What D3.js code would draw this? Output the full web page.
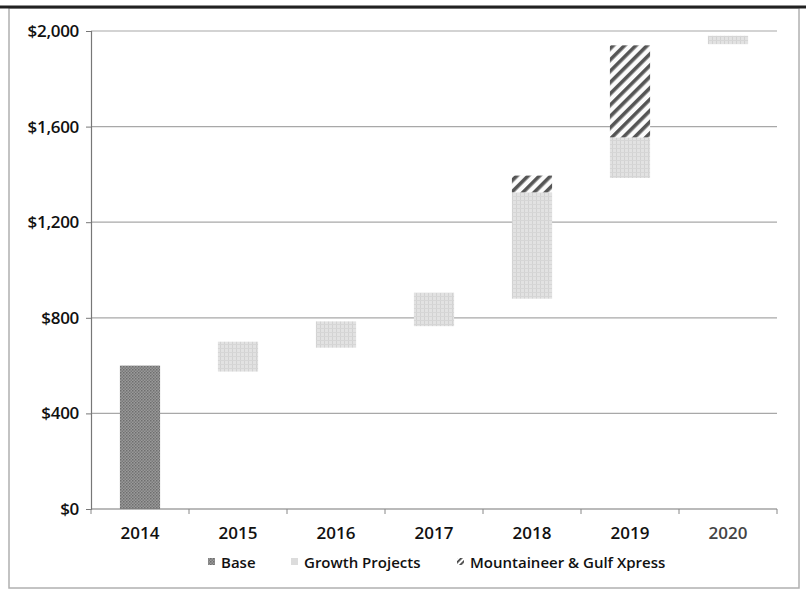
<!DOCTYPE html>
<html>
<head>
<meta charset="utf-8">
<script src="https://cdn.jsdelivr.net/npm/d3@7"></script>
<style>
  html, body { margin: 0; padding: 0; background: #fff; }
  svg { display: block; }
  text { font-family: "Open Sans", "Noto Sans", sans-serif; font-weight: 600; fill: #111; }
</style>
</head>
<body>
<svg id="chart" width="806" height="593"></svg>
<script>
// Capital outlook, $ millions, shown as a floating waterfall
const years = ["2014", "2015", "2016", "2017", "2018", "2019", "2020"];
const baseValues = [600, 0, 0, 0, 0, 0, 0];
const growthLow  = [null, 575, 675, 765, 880, 1385, 1945];
const growthHigh = [null, 700, 785, 905, 1325, 1555, 1980];
const mgxHigh    = [null, null, null, null, 1395, 1940, null];
const yTicks = [0, 400, 800, 1200, 1600, 2000];
const legendLabels = ["Base", "Growth Projects", "Mountaineer & Gulf Xpress"];

const svg = d3.select("#chart");
const plotLeft = 91, plotRight = 777, plotTop = 31, plotBottom = 509;

// Fill patterns
const defs = svg.append("defs");
const pBase = defs.append("pattern").attr("id", "pBase").attr("patternUnits", "userSpaceOnUse")
  .attr("width", 3).attr("height", 3);
pBase.append("rect").attr("width", 3).attr("height", 3).attr("fill", "#9a9a9a");
pBase.append("rect").attr("width", 1.5).attr("height", 1.5).attr("fill", "#6e6e6e");
pBase.append("rect").attr("x", 1.5).attr("y", 1.5).attr("width", 1.5).attr("height", 1.5).attr("fill", "#7a7a7a");

const pGrowth = defs.append("pattern").attr("id", "pGrowth").attr("patternUnits", "userSpaceOnUse")
  .attr("width", 4).attr("height", 4);
pGrowth.append("rect").attr("width", 4).attr("height", 4).attr("fill", "#e2e2e2");
pGrowth.append("rect").attr("width", 1).attr("height", 4).attr("fill", "#d2d2d2");
pGrowth.append("rect").attr("width", 4).attr("height", 1).attr("fill", "#d6d6d6");

const pMgx = defs.append("pattern").attr("id", "pMgx").attr("patternUnits", "userSpaceOnUse")
  .attr("width", 8).attr("height", 8).attr("patternTransform", "rotate(45)");
pMgx.append("rect").attr("width", 8).attr("height", 8).attr("fill", "#fbfbfb");
pMgx.append("rect").attr("width", 3.6).attr("height", 8).attr("fill", "#555");

const pMgxSmall = defs.append("pattern").attr("id", "pMgxSmall").attr("patternUnits", "userSpaceOnUse")
  .attr("width", 4).attr("height", 4).attr("patternTransform", "rotate(45)");
pMgxSmall.append("rect").attr("width", 4).attr("height", 4).attr("fill", "#fff");
pMgxSmall.append("rect").attr("width", 1.8).attr("height", 4).attr("fill", "#444");

// Outer frame
svg.append("rect").attr("x", 9).attr("y", 8).attr("width", 790).attr("height", 580)
  .attr("fill", "none").attr("stroke", "#b0b0b0").attr("stroke-width", 1.5);
svg.append("line").attr("x1", 0).attr("x2", 806).attr("y1", 7).attr("y2", 7)
  .attr("stroke", "#222").attr("stroke-width", 3);

const x = d3.scaleBand().domain(years).range([plotLeft, plotRight]).paddingInner(0.59).paddingOuter(0.295);
const y = d3.scaleLinear().domain([0, 2000]).range([plotBottom, plotTop]);

// Gridlines
svg.append("g").selectAll("line").data(yTicks.filter(d => d > 0)).join("line")
  .attr("x1", plotLeft).attr("x2", plotRight)
  .attr("y1", d => y(d)).attr("y2", d => y(d))
  .attr("stroke", "#a8a8a8").attr("stroke-width", 1.2);

// Bars
const bars = svg.append("g");
years.forEach((yr, i) => {
  if (baseValues[i] > 0) {
    bars.append("rect").attr("x", x(yr)).attr("width", x.bandwidth())
      .attr("y", y(baseValues[i])).attr("height", y(0) - y(baseValues[i]))
      .attr("fill", "url(#pBase)");
  }
  if (growthLow[i] != null) {
    bars.append("rect").attr("x", x(yr)).attr("width", x.bandwidth())
      .attr("y", y(growthHigh[i])).attr("height", y(growthLow[i]) - y(growthHigh[i]))
      .attr("fill", "url(#pGrowth)");
  }
  if (mgxHigh[i] != null) {
    bars.append("rect").attr("x", x(yr)).attr("width", x.bandwidth())
      .attr("y", y(mgxHigh[i])).attr("height", y(growthHigh[i]) - y(mgxHigh[i]))
      .attr("fill", "url(#pMgx)");
  }
});

// Y axis
const yAxis = svg.append("g").attr("transform", `translate(${plotLeft},0)`)
  .call(d3.axisLeft(y).tickValues(yTicks).tickSize(5).tickPadding(7)
    .tickFormat(d => "$" + d3.format(",")(d)));
yAxis.select(".domain").attr("stroke", "#777").attr("stroke-width", 1.2);
yAxis.selectAll(".tick line").attr("stroke", "#777");
yAxis.selectAll("text").style("font-size", "17px").style("font-weight", "600").style("fill", "#111")
  .style("letter-spacing", "-0.3px");

// X axis: tick marks at category boundaries, labels centred in each band
const xg = svg.append("g");
xg.append("line").attr("x1", plotLeft).attr("x2", plotRight).attr("y1", plotBottom).attr("y2", plotBottom)
  .attr("stroke", "#777").attr("stroke-width", 1.2);
xg.selectAll(".b").data(d3.range(years.length + 1)).join("line").attr("class", "b")
  .attr("x1", i => plotLeft + i * x.step()).attr("x2", i => plotLeft + i * x.step())
  .attr("y1", plotBottom).attr("y2", plotBottom + 5).attr("stroke", "#888");
xg.selectAll("text").data(years).join("text")
  .attr("x", d => x(d) + x.bandwidth() / 2).attr("y", 539)
  .attr("text-anchor", "middle").style("font-size", "17px")
  .style("fill", (d, i) => i === years.length - 1 ? "#444" : "#111")
  .text(d => d);

// Legend
const legendX = [208, 291, 457];
const legendFill = ["url(#pBase)", "#dcdcdc", "url(#pMgxSmall)"];
const lg = svg.append("g");
legendLabels.forEach((lab, i) => {
  lg.append("rect").attr("x", legendX[i]).attr("y", 558).attr("width", 7).attr("height", 7)
    .attr("fill", legendFill[i]);
  lg.append("text").attr("x", legendX[i] + 13).attr("y", 568)
    .style("font-size", "15px").text(lab);
});
</script>
</body>
</html>
